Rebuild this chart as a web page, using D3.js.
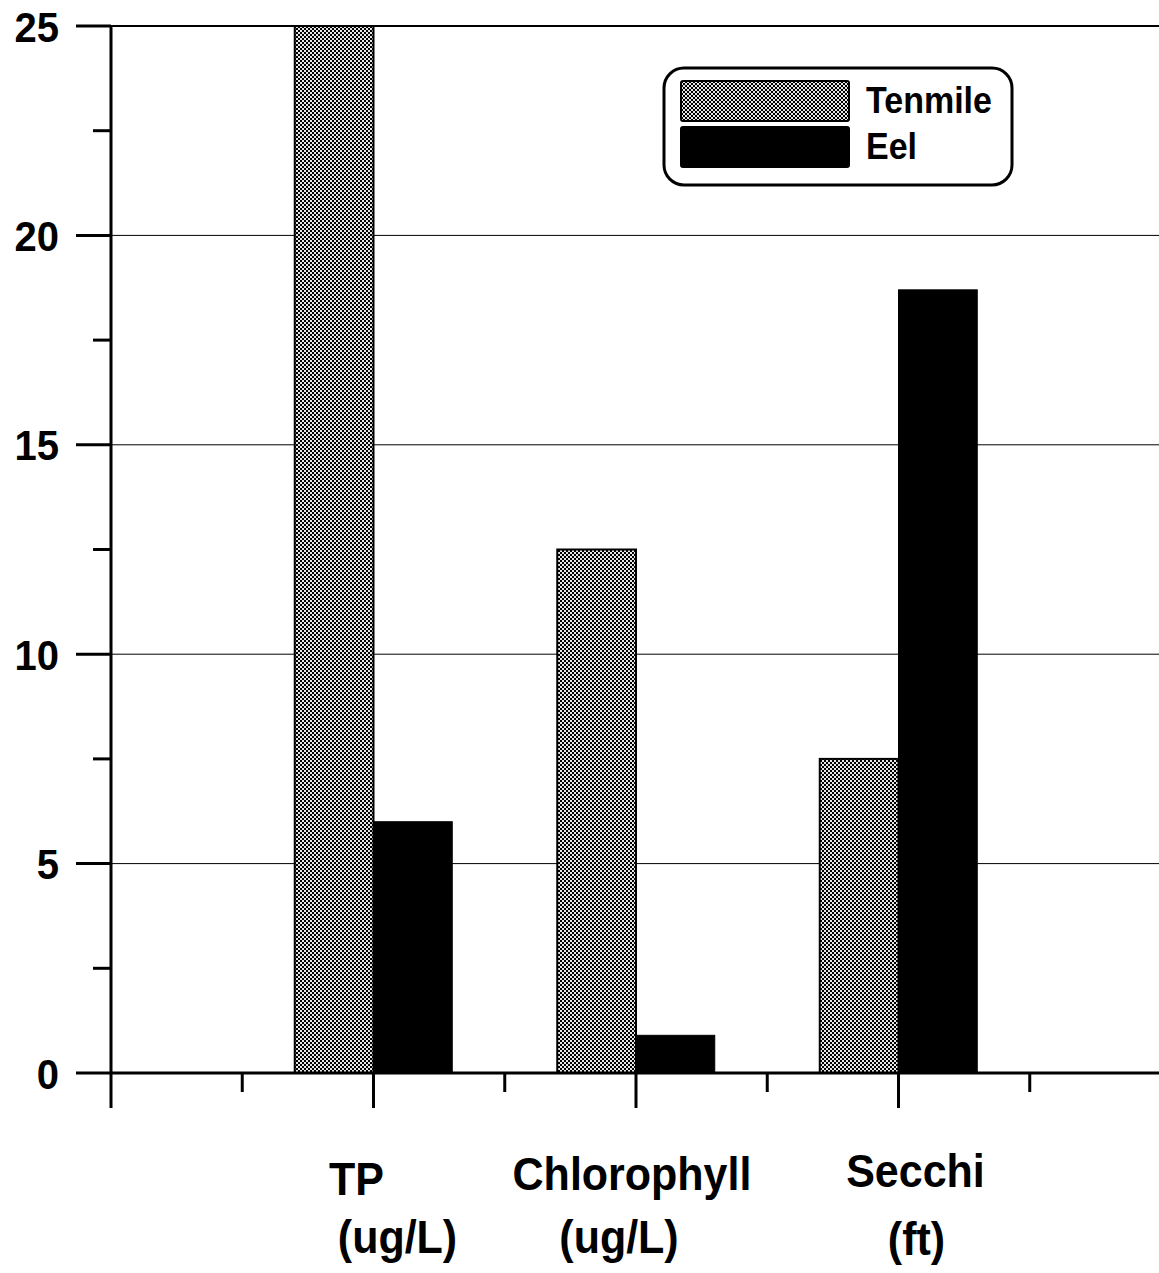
<!DOCTYPE html>
<html lang="en">
<head>
  <meta charset="UTF-8">
  <title>Tenmile vs Eel</title>
  <script src="https://d3js.org/d3.v7.min.js"></script>
  <style>
    html, body { margin: 0; padding: 0; background: #fff; }
    svg { display: block; font-family: "Liberation Sans", Arial, sans-serif; font-weight: bold; }
  </style>
</head>
<body>
  <script>
    // data
    const categories = ['TP', 'Chlorophyll', 'Secchi'];
    const units = ['(ug/L)', '(ug/L)', '(ft)'];
    const catPos = [2, 4, 6];
    const seriesNames = ['Tenmile', 'Eel'];
    const tenmile = [25, 12.5, 7.5];
    const eel = [6, 0.9, 18.7];
    const yTicks = [0, 5, 10, 15, 20, 25];
    const yMinor = [2.5, 7.5, 12.5, 17.5, 22.5];
    const xMajor = [0, 2, 4, 6, 8];
    const xMinor = [1, 3, 5, 7];

    const W = 1159, H = 1273;
    const barW = 0.6;
    // label nudges (px) copied from the original layout
    const nameDx = [-17, -4, 17], nameY = [1195, 1190, 1187];
    const unitDx = [24, -17, 18], unitY = [1253, 1253, 1255];
    const stretch = 1.08; // the original lettering is a bit taller than Arial

    const svg = d3.select('body').append('svg')
      .attr('width', W)
      .attr('height', H);

    const defs = svg.append('defs');
    const pat = defs.append('pattern')
      .attr('id', 'hatch')
      .attr('patternUnits', 'userSpaceOnUse')
      .attr('width', 4)
      .attr('height', 4);
    pat.append('rect').attr('width', 4).attr('height', 4).attr('fill', '#e6e6e6');
    pat.append('rect').attr('width', 2).attr('height', 2).attr('fill', '#000');
    pat.append('rect').attr('x', 2).attr('y', 2).attr('width', 2).attr('height', 2).attr('fill', '#000');

    const x = d3.scaleLinear().domain([0, 8]).range([111, 1161]);
    const y = d3.scaleLinear().domain([0, 25]).range([1073, 26]);

    // gridlines
    svg.append('g')
      .selectAll('line')
      .data(yTicks.slice(1))
      .join('line')
      .attr('x1', x(0))
      .attr('x2', W)
      .attr('y1', d => y(d))
      .attr('y2', d => y(d))
      .attr('stroke', '#000')
      .attr('stroke-width', d => d === 25 ? 2 : 1);

    // bars
    const rows = categories.map((c, i) => ({ c, pos: catPos[i], t: tenmile[i], e: eel[i] }));

    svg.append('g')
      .selectAll('rect')
      .data(rows)
      .join('rect')
      .attr('x', d => x(d.pos - barW))
      .attr('y', d => y(d.t))
      .attr('width', d => x(d.pos) - x(d.pos - barW))
      .attr('height', d => y(0) - y(d.t))
      .attr('fill', 'url(#hatch)')
      .attr('stroke', '#000')
      .attr('stroke-width', 2);

    svg.append('g')
      .selectAll('rect')
      .data(rows)
      .join('rect')
      .attr('x', d => x(d.pos))
      .attr('y', d => y(d.e))
      .attr('width', d => x(d.pos + barW) - x(d.pos))
      .attr('height', d => y(0) - y(d.e))
      .attr('fill', '#000')
      .attr('stroke', '#000')
      .attr('stroke-width', 1);

    // y axis
    const yAxis = svg.append('g').attr('transform', `translate(${x(0)},0)`);
    yAxis.append('line')
      .attr('y1', y(25)).attr('y2', y(0))
      .attr('stroke', '#000').attr('stroke-width', 3);
    yAxis.selectAll('.maj')
      .data(yTicks)
      .join('line')
      .attr('class', 'maj')
      .attr('x1', -35).attr('x2', 0)
      .attr('y1', d => y(d)).attr('y2', d => y(d))
      .attr('stroke', '#000').attr('stroke-width', 3);
    yAxis.selectAll('.min')
      .data(yMinor)
      .join('line')
      .attr('class', 'min')
      .attr('x1', -18).attr('x2', 0)
      .attr('y1', d => y(d)).attr('y2', d => y(d))
      .attr('stroke', '#000').attr('stroke-width', 3);
    yAxis.selectAll('text')
      .data(yTicks)
      .join('text')
      .attr('transform', d => `translate(-52,${y(d)}) scale(1,${stretch})`)
      .attr('dy', '0.36em')
      .attr('text-anchor', 'end')
      .attr('font-size', 40)
      .text(d => d);

    // x axis
    const xAxis = svg.append('g').attr('transform', `translate(0,${y(0)})`);
    xAxis.append('line')
      .attr('x1', x(0)).attr('x2', W)
      .attr('stroke', '#000').attr('stroke-width', 3);
    xAxis.selectAll('.maj')
      .data(xMajor)
      .join('line')
      .attr('class', 'maj')
      .attr('x1', d => x(d)).attr('x2', d => x(d))
      .attr('y1', 0).attr('y2', 35)
      .attr('stroke', '#000').attr('stroke-width', 3);
    xAxis.selectAll('.min')
      .data(xMinor)
      .join('line')
      .attr('class', 'min')
      .attr('x1', d => x(d)).attr('x2', d => x(d))
      .attr('y1', 0).attr('y2', 19)
      .attr('stroke', '#000').attr('stroke-width', 3);

    // category labels
    svg.append('g')
      .selectAll('text')
      .data(categories)
      .join('text')
      .attr('transform', (d, i) => `translate(${x(catPos[i]) + nameDx[i]},${nameY[i]}) scale(1,${stretch})`)
      .attr('text-anchor', 'middle')
      .attr('font-size', 43)
      .text(d => d);

    svg.append('g')
      .selectAll('text')
      .data(units)
      .join('text')
      .attr('transform', (d, i) => `translate(${x(catPos[i]) + unitDx[i]},${unitY[i]}) scale(1,${stretch})`)
      .attr('text-anchor', 'middle')
      .attr('font-size', 43)
      .text(d => d);

    // legend
    const legend = svg.append('g').attr('transform', 'translate(664,68)');
    legend.append('rect')
      .attr('width', 348)
      .attr('height', 117)
      .attr('rx', 20)
      .attr('fill', '#fff')
      .attr('stroke', '#000')
      .attr('stroke-width', 3);
    const fills = ['url(#hatch)', '#000'];
    const item = legend.selectAll('.item')
      .data(seriesNames)
      .join('g')
      .attr('class', 'item')
      .attr('transform', (d, i) => `translate(17,${13 + i * 46})`);
    item.append('rect')
      .attr('width', 168)
      .attr('height', 40)
      .attr('rx', 2)
      .attr('fill', (d, i) => fills[i])
      .attr('stroke', '#000')
      .attr('stroke-width', 2);
    item.append('text')
      .attr('transform', `translate(185,32) scale(1,${stretch})`)
      .attr('font-size', 34)
      .text(d => d);
  </script>
</body>
</html>
